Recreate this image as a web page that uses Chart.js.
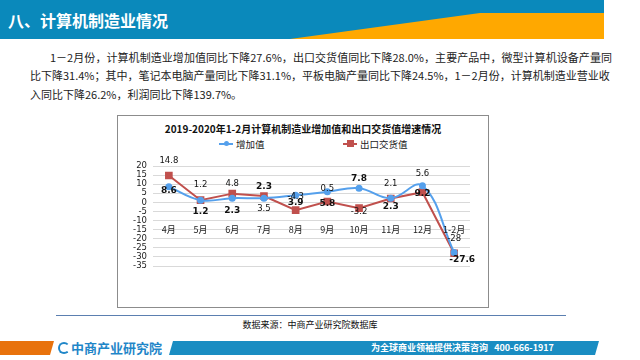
<!DOCTYPE html>
<html>
<head>
<meta charset="utf-8">
<script src="https://cdn.jsdelivr.net/npm/chart.js@4/dist/chart.umd.min.js"></script>
<style>
  body { margin: 0; width: 640px; height: 360px; overflow: hidden; background: #fff; position: relative;
         font-family: "Noto Sans CJK SC", "DejaVu Sans", sans-serif; color: #222; }
  .abs { position: absolute; }
  .bar { left: 0; top: 0; width: 604px; height: 39px; background: #0a89bb; }
  .tab { left: 0; top: 0; width: 604px; height: 39px; background: #ffa800;
         clip-path: polygon(290px 39px, 480px 13px, 604px 13px, 604px 39px); }
  .head { left: 8px; top: 8px; font-size: 16px; font-weight: bold; color: #fff; line-height: 24px; }
  .para { font-size: 11px; line-height: 18px; white-space: nowrap; text-align: justify; text-align-last: justify; }
  .box { left: 117px; top: 115px; width: 370px; height: 191px; border: 1px solid #8c8c8c; }
  .ctitle { left: 0; top: 5px; width: 370px; text-align: center; font-size: 10px; font-weight: bold; color: #111; }
  .leg { top: 21px; font-size: 9.5px; line-height: 14px; color: #222; }
  .sw { display: inline-block; position: relative; width: 14px; height: 14px; vertical-align: top; margin-right: 3px; }
  .sw i { position: absolute; left: 0; top: 6px; width: 14px; height: 2px; }
  .sw b { position: absolute; }
  .rule { left: 56px; top: 315px; width: 510px; height: 0; border-top: 1.5px solid #5b7fb0; }
  .src { left: 0; top: 318px; width: 620px; text-align: center; font-size: 9px; line-height: 14px; color: #111; }
  .org { left: 0; top: 341px; width: 54px; height: 14px; background: #e8720c;
         clip-path: polygon(0 0, 54px 0, 50px 14px, 0 14px); }
  .ring { left: 58px; top: 342px; width: 8px; height: 8px; border: 2.5px solid #1f86c8; border-right-color: transparent; border-radius: 50%; }
  .dot { left: 64px; top: 345px; width: 4px; height: 5px; background: #e8720c; }
  .logo { left: 71px; top: 339px; font-size: 13px; line-height: 18px; color: #1f86c8; font-weight: bold; }
  .blue { left: 169px; top: 341px; width: 430px; height: 14px; background: #1a8dc2;
          clip-path: polygon(4px 0, 430px 0, 426px 14px, 0 14px); }
  .slogan { left: 371px; top: 341px; font-size: 9px; line-height: 14px; color: #fff; font-weight: bold; }
</style>
</head>
<body>
<div class="abs bar"></div>
<div class="abs tab"></div>
<div class="abs head">八、计算机制造业情况</div>

<div class="abs para" style="left:50px; top:48px; width:562px;">1－2月份，计算机制造业增加值同比下降27.6%，出口交货值同比下降28.0%，主要产品中，微型计算机设备产量同</div>
<div class="abs para" style="left:30px; top:66px; width:566px;">比下降31.4%；其中，笔记本电脑产量同比下降31.1%，平板电脑产量同比下降24.5%，1－2月份，计算机制造业营业收</div>
<div class="abs para" style="left:30px; top:85px; text-align:left; text-align-last:auto;">入同比下降26.2%，利润同比下降139.7%。</div>

<div class="abs box">
  <div class="abs ctitle">2019-2020年1-2月计算机制造业增加值和出口交货值增速情况</div>
  <div class="abs leg" style="left:101px;"><span class="sw"><i style="background:#55a0ec"></i><b style="left:5px;top:4px;width:5px;height:5px;border-radius:50%;background:#55a0ec"></b></span>增加值</div>
  <div class="abs leg" style="left:225px;"><span class="sw"><i style="background:#c0504d"></i><b style="left:4px;top:3px;width:7px;height:7px;background:#c0504d"></b></span>出口交货值</div>
  <canvas id="chart" class="abs" style="left:0;top:0;" width="370" height="191"></canvas>
</div>

<div class="abs rule"></div>
<div class="abs src">数据来源：中商产业研究院数据库</div>
<div class="abs org"></div>
<div class="abs ring"></div>
<div class="abs logo">中商产业研究院</div>
<div class="abs blue"></div>
<div class="abs slogan">为全球商业领袖提供决策咨询&nbsp;&nbsp;&nbsp;400-666-1917</div>

<script>
const months = ["4月", "5月", "6月", "7月", "8月", "9月", "10月", "11月", "12月", "1-2月"];
const addedValue = [8.6, 1.2, 2.3, 2.3, 3.9, 5.8, 7.8, 2.3, 9.2, -27.6];
const exportValue = [14.8, 1.2, 4.8, 3.5, -4.3, 0.5, -3.2, 2.1, 5.6, -28];
const yTicks = { min: -35, max: 20, step: 5 };

// where the data labels sit relative to their points (px), as in the picture
const blueLabelDy = [4, 11, 12, -12, 7, 12, -10, 8, 8, 7];
const redLabelDy = [-15, -15, -10, 13, -13, -13, 4, -15, -18, -14];

const blue = "#55a0ec";
const red = "#c0504d";

const valueLabels = {
    id: "valueLabels",
    afterDatasetsDraw(chart) {
        const { ctx, scales: { x, y } } = chart;
        ctx.save();
        ctx.textAlign = "center";
        ctx.textBaseline = "middle";
        ctx.fillStyle = "#222";
        ctx.font = '9px "Noto Sans CJK SC"';
        months.forEach((m, i) => {
            ctx.fillText(m, x.getPixelForValue(i), y.getPixelForValue(-15));
        });
        ctx.fillStyle = "#111";
        ctx.font = '8.5px "DejaVu Sans"';
        exportValue.forEach((v, i) => {
            ctx.fillText(String(v), x.getPixelForValue(i), y.getPixelForValue(v) + redLabelDy[i]);
        });
        ctx.font = 'bold 9px "DejaVu Sans"';
        addedValue.forEach((v, i) => {
            const dx = i === addedValue.length - 1 ? 8 : 0;
            ctx.fillText(String(v), x.getPixelForValue(i) + dx, y.getPixelForValue(v) + blueLabelDy[i]);
        });
        ctx.restore();
    }
};

new Chart(document.getElementById("chart"), {
    type: "line",
    data: {
        labels: months,
        datasets: [
            {
                label: "增加值",
                data: addedValue,
                borderColor: blue,
                backgroundColor: blue,
                borderWidth: 2,
                tension: 0.4,
                pointRadius: 2.5,
                pointStyle: "circle",
            },
            {
                label: "出口交货值",
                data: exportValue,
                borderColor: red,
                backgroundColor: red,
                borderWidth: 2,
                tension: 0,
                pointRadius: 4,
                pointStyle: "rect",
            }
        ],
    },
    options: {
        responsive: false,
        animation: false,
        devicePixelRatio: 1,
        layout: { padding: { left: 0, right: 18, top: 50, bottom: 41 } },
        plugins: { legend: { display: false }, title: { display: false }, tooltip: { enabled: false } },
        scales: {
            x: { display: false, offset: true },
            y: {
                min: yTicks.min,
                max: yTicks.max,
                afterFit: (s) => { s.width = 35; },
                border: { display: false },
                grid: { color: "#d9d9d9", drawTicks: false },
                ticks: {
                    stepSize: yTicks.step,
                    autoSkip: false,
                    padding: 6,
                    color: "#222",
                    font: { family: "DejaVu Sans", size: 8.5 },
                },
            },
        },
    },
    plugins: [valueLabels],
});
</script>
</body>
</html>
